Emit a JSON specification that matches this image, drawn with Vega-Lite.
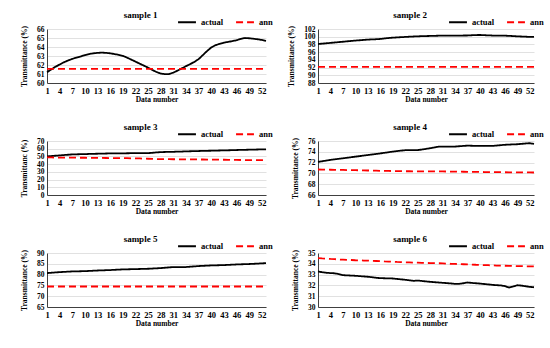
{
  "$schema": "https://vega.github.io/schema/vega-lite/v6.json",
  "background": "white",
  "padding": {"left": 20, "top": 11, "right": 5, "bottom": 4},
  "datasets": {
    "s1": [
      {"n":1,"actual":61.2,"ann":61.58},{"n":2,"actual":61.5,"ann":61.58},{"n":3,"actual":61.8,"ann":61.58},{"n":4,"actual":62.05,"ann":61.58},{"n":5,"actual":62.3,"ann":61.58},{"n":6,"actual":62.5,"ann":61.58},{"n":7,"actual":62.68,"ann":61.58},{"n":8,"actual":62.82,"ann":61.58},{"n":9,"actual":62.95,"ann":61.58},{"n":10,"actual":63.1,"ann":61.58},
      {"n":11,"actual":63.22,"ann":61.58},{"n":12,"actual":63.3,"ann":61.58},{"n":13,"actual":63.35,"ann":61.58},{"n":14,"actual":63.37,"ann":61.58},{"n":15,"actual":63.35,"ann":61.58},{"n":16,"actual":63.3,"ann":61.58},{"n":17,"actual":63.22,"ann":61.58},{"n":18,"actual":63.13,"ann":61.58},{"n":19,"actual":63.02,"ann":61.58},{"n":20,"actual":62.82,"ann":61.58},
      {"n":21,"actual":62.6,"ann":61.58},{"n":22,"actual":62.38,"ann":61.58},{"n":23,"actual":62.15,"ann":61.58},{"n":24,"actual":61.93,"ann":61.58},{"n":25,"actual":61.7,"ann":61.58},{"n":26,"actual":61.45,"ann":61.58},{"n":27,"actual":61.22,"ann":61.58},{"n":28,"actual":61.05,"ann":61.58},{"n":29,"actual":60.98,"ann":61.58},{"n":30,"actual":61.0,"ann":61.58},
      {"n":31,"actual":61.15,"ann":61.58},{"n":32,"actual":61.38,"ann":61.58},{"n":33,"actual":61.62,"ann":61.58},{"n":34,"actual":61.87,"ann":61.58},{"n":35,"actual":62.1,"ann":61.58},{"n":36,"actual":62.35,"ann":61.58},{"n":37,"actual":62.65,"ann":61.58},{"n":38,"actual":63.1,"ann":61.58},{"n":39,"actual":63.55,"ann":61.58},{"n":40,"actual":63.95,"ann":61.58},
      {"n":41,"actual":64.2,"ann":61.58},{"n":42,"actual":64.35,"ann":61.58},{"n":43,"actual":64.48,"ann":61.58},{"n":44,"actual":64.57,"ann":61.58},{"n":45,"actual":64.65,"ann":61.58},{"n":46,"actual":64.75,"ann":61.58},{"n":47,"actual":64.9,"ann":61.58},{"n":48,"actual":65.0,"ann":61.58},{"n":49,"actual":64.97,"ann":61.58},{"n":50,"actual":64.92,"ann":61.58},
      {"n":51,"actual":64.86,"ann":61.58},{"n":52,"actual":64.78,"ann":61.58},{"n":53,"actual":64.68,"ann":61.58}
    ],
    "s2": [
      {"n":1,"actual":98.1,"ann":92.2},{"n":2,"actual":98.2,"ann":92.2},{"n":3,"actual":98.3,"ann":92.2},{"n":4,"actual":98.4,"ann":92.2},{"n":5,"actual":98.5,"ann":92.2},{"n":6,"actual":98.6,"ann":92.2},{"n":7,"actual":98.7,"ann":92.2},{"n":8,"actual":98.8,"ann":92.2},{"n":9,"actual":98.9,"ann":92.2},{"n":10,"actual":99.0,"ann":92.2},
      {"n":11,"actual":99.08,"ann":92.2},{"n":12,"actual":99.17,"ann":92.2},{"n":13,"actual":99.25,"ann":92.2},{"n":14,"actual":99.3,"ann":92.2},{"n":15,"actual":99.35,"ann":92.2},{"n":16,"actual":99.42,"ann":92.2},{"n":17,"actual":99.55,"ann":92.2},{"n":18,"actual":99.66,"ann":92.2},{"n":19,"actual":99.76,"ann":92.2},{"n":20,"actual":99.82,"ann":92.2},
      {"n":21,"actual":99.88,"ann":92.2},{"n":22,"actual":99.94,"ann":92.2},{"n":23,"actual":100.0,"ann":92.2},{"n":24,"actual":100.05,"ann":92.2},{"n":25,"actual":100.1,"ann":92.2},{"n":26,"actual":100.14,"ann":92.2},{"n":27,"actual":100.17,"ann":92.2},{"n":28,"actual":100.2,"ann":92.2},{"n":29,"actual":100.23,"ann":92.2},{"n":30,"actual":100.26,"ann":92.2},
      {"n":31,"actual":100.28,"ann":92.2},{"n":32,"actual":100.29,"ann":92.2},{"n":33,"actual":100.29,"ann":92.2},{"n":34,"actual":100.3,"ann":92.2},{"n":35,"actual":100.3,"ann":92.2},{"n":36,"actual":100.31,"ann":92.2},{"n":37,"actual":100.32,"ann":92.2},{"n":38,"actual":100.38,"ann":92.2},{"n":39,"actual":100.43,"ann":92.2},{"n":40,"actual":100.45,"ann":92.2},
      {"n":41,"actual":100.4,"ann":92.2},{"n":42,"actual":100.35,"ann":92.2},{"n":43,"actual":100.3,"ann":92.2},{"n":44,"actual":100.29,"ann":92.2},{"n":45,"actual":100.28,"ann":92.2},{"n":46,"actual":100.28,"ann":92.2},{"n":47,"actual":100.22,"ann":92.2},{"n":48,"actual":100.16,"ann":92.2},{"n":49,"actual":100.1,"ann":92.2},{"n":50,"actual":100.05,"ann":92.2},
      {"n":51,"actual":100.0,"ann":92.2},{"n":52,"actual":99.95,"ann":92.2},{"n":53,"actual":99.94,"ann":92.2}
    ],
    "s3": [
      {"n":1,"actual":50.0,"ann":48.7},{"n":2,"actual":50.5,"ann":48.65},{"n":3,"actual":50.9,"ann":48.6},{"n":4,"actual":51.3,"ann":48.55},{"n":5,"actual":51.8,"ann":48.5},{"n":6,"actual":52.2,"ann":48.45},{"n":7,"actual":52.6,"ann":48.4},{"n":8,"actual":52.75,"ann":48.35},{"n":9,"actual":52.9,"ann":48.3},{"n":10,"actual":53.0,"ann":48.3},
      {"n":11,"actual":53.2,"ann":48.2},{"n":12,"actual":53.35,"ann":48.15},{"n":13,"actual":53.5,"ann":48.1},{"n":14,"actual":53.65,"ann":48.0},{"n":15,"actual":53.8,"ann":47.95},{"n":16,"actual":53.9,"ann":47.9},{"n":17,"actual":53.95,"ann":47.85},{"n":18,"actual":54.0,"ann":47.8},{"n":19,"actual":54.0,"ann":47.8},{"n":20,"actual":54.1,"ann":47.7},
      {"n":21,"actual":54.2,"ann":47.6},{"n":22,"actual":54.3,"ann":47.5},{"n":23,"actual":54.3,"ann":47.35},{"n":24,"actual":54.3,"ann":47.2},{"n":25,"actual":54.3,"ann":47.0},{"n":26,"actual":54.7,"ann":46.85},{"n":27,"actual":55.2,"ann":46.65},{"n":28,"actual":55.6,"ann":46.5},{"n":29,"actual":55.75,"ann":46.45},{"n":30,"actual":55.9,"ann":46.4},
      {"n":31,"actual":56.0,"ann":46.35},{"n":32,"actual":56.2,"ann":46.3},{"n":33,"actual":56.35,"ann":46.25},{"n":34,"actual":56.5,"ann":46.2},{"n":35,"actual":56.7,"ann":46.15},{"n":36,"actual":56.85,"ann":46.1},{"n":37,"actual":57.0,"ann":46.1},{"n":38,"actual":57.15,"ann":46.0},{"n":39,"actual":57.3,"ann":45.95},{"n":40,"actual":57.4,"ann":45.9},
      {"n":41,"actual":57.55,"ann":45.85},{"n":42,"actual":57.7,"ann":45.75},{"n":43,"actual":57.8,"ann":45.7},{"n":44,"actual":57.95,"ann":45.6},{"n":45,"actual":58.15,"ann":45.5},{"n":46,"actual":58.3,"ann":45.45},{"n":47,"actual":58.45,"ann":45.35},{"n":48,"actual":58.6,"ann":45.3},{"n":49,"actual":58.7,"ann":45.2},{"n":50,"actual":58.85,"ann":45.2},
      {"n":51,"actual":59.0,"ann":45.2},{"n":52,"actual":59.1,"ann":45.2},{"n":53,"actual":59.1,"ann":45.2}
    ],
    "s4": [
      {"n":1,"actual":72.13,"ann":70.72},{"n":2,"actual":72.25,"ann":70.71},{"n":3,"actual":72.38,"ann":70.69},{"n":4,"actual":72.5,"ann":70.68},{"n":5,"actual":72.6,"ann":70.67},{"n":6,"actual":72.7,"ann":70.65},{"n":7,"actual":72.8,"ann":70.64},{"n":8,"actual":72.9,"ann":70.62},{"n":9,"actual":73.0,"ann":70.61},{"n":10,"actual":73.1,"ann":70.6},
      {"n":11,"actual":73.2,"ann":70.58},{"n":12,"actual":73.3,"ann":70.56},{"n":13,"actual":73.4,"ann":70.54},{"n":14,"actual":73.5,"ann":70.52},{"n":15,"actual":73.6,"ann":70.5},{"n":16,"actual":73.7,"ann":70.48},{"n":17,"actual":73.81,"ann":70.47},{"n":18,"actual":73.92,"ann":70.45},{"n":19,"actual":74.04,"ann":70.44},{"n":20,"actual":74.13,"ann":70.43},
      {"n":21,"actual":74.22,"ann":70.42},{"n":22,"actual":74.3,"ann":70.4},{"n":23,"actual":74.3,"ann":70.4},{"n":24,"actual":74.3,"ann":70.39},{"n":25,"actual":74.32,"ann":70.39},{"n":26,"actual":74.42,"ann":70.38},{"n":27,"actual":74.54,"ann":70.38},{"n":28,"actual":74.66,"ann":70.37},{"n":29,"actual":74.8,"ann":70.37},{"n":30,"actual":74.95,"ann":70.36},
      {"n":31,"actual":74.96,"ann":70.36},{"n":32,"actual":74.96,"ann":70.35},{"n":33,"actual":74.96,"ann":70.34},{"n":34,"actual":74.97,"ann":70.33},{"n":35,"actual":75.03,"ann":70.32},{"n":36,"actual":75.09,"ann":70.31},{"n":37,"actual":75.14,"ann":70.3},{"n":38,"actual":75.12,"ann":70.29},{"n":39,"actual":75.1,"ann":70.28},{"n":40,"actual":75.08,"ann":70.27},
      {"n":41,"actual":75.08,"ann":70.25},{"n":42,"actual":75.08,"ann":70.24},{"n":43,"actual":75.09,"ann":70.23},{"n":44,"actual":75.16,"ann":70.22},{"n":45,"actual":75.23,"ann":70.22},{"n":46,"actual":75.3,"ann":70.21},{"n":47,"actual":75.34,"ann":70.2},{"n":48,"actual":75.37,"ann":70.2},{"n":49,"actual":75.4,"ann":70.19},{"n":50,"actual":75.47,"ann":70.19},
      {"n":51,"actual":75.54,"ann":70.18},{"n":52,"actual":75.6,"ann":70.18},{"n":53,"actual":75.45,"ann":70.17}
    ],
    "s5": [
      {"n":1,"actual":80.7,"ann":74.5},{"n":2,"actual":80.85,"ann":74.5},{"n":3,"actual":81.0,"ann":74.5},{"n":4,"actual":81.15,"ann":74.5},{"n":5,"actual":81.25,"ann":74.5},{"n":6,"actual":81.36,"ann":74.5},{"n":7,"actual":81.46,"ann":74.5},{"n":8,"actual":81.5,"ann":74.5},{"n":9,"actual":81.55,"ann":74.5},{"n":10,"actual":81.6,"ann":74.5},
      {"n":11,"actual":81.7,"ann":74.5},{"n":12,"actual":81.8,"ann":74.5},{"n":13,"actual":81.9,"ann":74.5},{"n":14,"actual":81.97,"ann":74.5},{"n":15,"actual":82.03,"ann":74.5},{"n":16,"actual":82.1,"ann":74.5},{"n":17,"actual":82.2,"ann":74.5},{"n":18,"actual":82.3,"ann":74.5},{"n":19,"actual":82.4,"ann":74.5},{"n":20,"actual":82.45,"ann":74.5},
      {"n":21,"actual":82.5,"ann":74.5},{"n":22,"actual":82.55,"ann":74.5},{"n":23,"actual":82.6,"ann":74.5},{"n":24,"actual":82.65,"ann":74.5},{"n":25,"actual":82.7,"ann":74.5},{"n":26,"actual":82.8,"ann":74.5},{"n":27,"actual":82.9,"ann":74.5},{"n":28,"actual":83.0,"ann":74.5},{"n":29,"actual":83.17,"ann":74.5},{"n":30,"actual":83.34,"ann":74.5},
      {"n":31,"actual":83.5,"ann":74.5},{"n":32,"actual":83.5,"ann":74.5},{"n":33,"actual":83.5,"ann":74.5},{"n":34,"actual":83.5,"ann":74.5},{"n":35,"actual":83.65,"ann":74.5},{"n":36,"actual":83.8,"ann":74.5},{"n":37,"actual":83.95,"ann":74.5},{"n":38,"actual":84.05,"ann":74.5},{"n":39,"actual":84.15,"ann":74.5},{"n":40,"actual":84.25,"ann":74.5},
      {"n":41,"actual":84.3,"ann":74.5},{"n":42,"actual":84.35,"ann":74.5},{"n":43,"actual":84.4,"ann":74.5},{"n":44,"actual":84.5,"ann":74.5},{"n":45,"actual":84.6,"ann":74.5},{"n":46,"actual":84.7,"ann":74.5},{"n":47,"actual":84.77,"ann":74.5},{"n":48,"actual":84.83,"ann":74.5},{"n":49,"actual":84.9,"ann":74.5},{"n":50,"actual":85.0,"ann":74.5},
      {"n":51,"actual":85.1,"ann":74.5},{"n":52,"actual":85.2,"ann":74.5},{"n":53,"actual":85.3,"ann":74.5}
    ],
    "s6": [
      {"n":1,"actual":33.29,"ann":34.53},{"n":2,"actual":33.22,"ann":34.5},{"n":3,"actual":33.17,"ann":34.48},{"n":4,"actual":33.14,"ann":34.45},{"n":5,"actual":33.12,"ann":34.43},{"n":6,"actual":33.05,"ann":34.4},{"n":7,"actual":32.95,"ann":34.38},{"n":8,"actual":32.93,"ann":34.36},{"n":9,"actual":32.91,"ann":34.35},{"n":10,"actual":32.89,"ann":34.33},
      {"n":11,"actual":32.86,"ann":34.32},{"n":12,"actual":32.83,"ann":34.3},{"n":13,"actual":32.8,"ann":34.29},{"n":14,"actual":32.76,"ann":34.27},{"n":15,"actual":32.71,"ann":34.26},{"n":16,"actual":32.67,"ann":34.24},{"n":17,"actual":32.66,"ann":34.22},{"n":18,"actual":32.65,"ann":34.21},{"n":19,"actual":32.64,"ann":34.19},{"n":20,"actual":32.6,"ann":34.17},
      {"n":21,"actual":32.56,"ann":34.16},{"n":22,"actual":32.52,"ann":34.14},{"n":23,"actual":32.47,"ann":34.13},{"n":24,"actual":32.42,"ann":34.11},{"n":25,"actual":32.45,"ann":34.1},{"n":26,"actual":32.41,"ann":34.09},{"n":27,"actual":32.37,"ann":34.08},{"n":28,"actual":32.33,"ann":34.07},{"n":29,"actual":32.3,"ann":34.06},{"n":30,"actual":32.27,"ann":34.05},
      {"n":31,"actual":32.24,"ann":34.04},{"n":32,"actual":32.21,"ann":34.02},{"n":33,"actual":32.18,"ann":34.0},{"n":34,"actual":32.14,"ann":33.99},{"n":35,"actual":32.15,"ann":33.97},{"n":36,"actual":32.2,"ann":33.96},{"n":37,"actual":32.27,"ann":33.94},{"n":38,"actual":32.23,"ann":33.93},{"n":39,"actual":32.2,"ann":33.91},{"n":40,"actual":32.17,"ann":33.9},
      {"n":41,"actual":32.13,"ann":33.88},{"n":42,"actual":32.09,"ann":33.87},{"n":43,"actual":32.05,"ann":33.85},{"n":44,"actual":32.02,"ann":33.84},{"n":45,"actual":32.0,"ann":33.83},{"n":46,"actual":31.93,"ann":33.82},{"n":47,"actual":31.8,"ann":33.81},{"n":48,"actual":31.9,"ann":33.8},{"n":49,"actual":32.02,"ann":33.79},{"n":50,"actual":31.98,"ann":33.78},
      {"n":51,"actual":31.92,"ann":33.77},{"n":52,"actual":31.86,"ann":33.77},{"n":53,"actual":31.83,"ann":33.76}
    ]
  },
  "columns": 2,
  "bounds": "flush",
  "spacing": {"column": 52, "row": 58},
  "resolve": {"scale": {"color": "independent", "strokeDash": "independent", "x": "independent", "y": "independent"}},
  "concat": [
    {
      "title": {"text": "sample 1"},
      "width": 219, "height": 54,
      "data": {"name": "s1"},
      "transform": [{"fold": ["actual", "ann"], "as": ["series", "value"]}],
      "mark": {"type": "line", "strokeWidth": 1.8},
      "encoding": {
        "x": {"field": "n", "type": "quantitative", "scale": {"domain": [1, 53], "nice": false, "zero": false}, "axis": {"values": [1,4,7,10,13,16,19,22,25,28,31,34,37,40,43,46,49,52], "title": "Data number"}},
        "y": {"field": "value", "type": "quantitative", "scale": {"domain": [60, 66], "nice": false, "zero": false}, "axis": {"values": [60,61,62,63,64,65,66], "title": "Transmittance (%)"}},
        "color": {"field": "series", "type": "nominal", "scale": {"domain": ["actual", "ann"], "range": ["#000000", "#ff0000"]}, "legend": {"orient": "none", "legendX": 130, "legendY": -17, "direction": "horizontal", "title": null}},
        "strokeDash": {"field": "series", "type": "nominal", "scale": {"domain": ["actual", "ann"], "range": [[1, 0], [7, 4]]}, "legend": {"orient": "none", "legendX": 130, "legendY": -17, "direction": "horizontal", "title": null}}
      }
    },
    {
      "title": {"text": "sample 2"},
      "width": 216, "height": 54,
      "data": {"name": "s2"},
      "transform": [{"fold": ["actual", "ann"], "as": ["series", "value"]}],
      "mark": {"type": "line", "strokeWidth": 1.8},
      "encoding": {
        "x": {"field": "n", "type": "quantitative", "scale": {"domain": [1, 53], "nice": false, "zero": false}, "axis": {"values": [1,4,7,10,13,16,19,22,25,28,31,34,37,40,43,46,49,52], "title": "Data number"}},
        "y": {"field": "value", "type": "quantitative", "scale": {"domain": [88, 102], "nice": false, "zero": false}, "axis": {"values": [88,90,92,94,96,98,100,102], "title": "Transmittance (%)"}},
        "color": {"field": "series", "type": "nominal", "scale": {"domain": ["actual", "ann"], "range": ["#000000", "#ff0000"]}, "legend": {"orient": "none", "legendX": 130, "legendY": -17, "direction": "horizontal", "title": null}},
        "strokeDash": {"field": "series", "type": "nominal", "scale": {"domain": ["actual", "ann"], "range": [[1, 0], [7, 4]]}, "legend": {"orient": "none", "legendX": 130, "legendY": -17, "direction": "horizontal", "title": null}}
      }
    },
    {
      "title": {"text": "sample 3"},
      "width": 219, "height": 54,
      "data": {"name": "s3"},
      "transform": [{"fold": ["actual", "ann"], "as": ["series", "value"]}],
      "mark": {"type": "line", "strokeWidth": 1.8},
      "encoding": {
        "x": {"field": "n", "type": "quantitative", "scale": {"domain": [1, 53], "nice": false, "zero": false}, "axis": {"values": [1,4,7,10,13,16,19,22,25,28,31,34,37,40,43,46,49,52], "title": "Data number"}},
        "y": {"field": "value", "type": "quantitative", "scale": {"domain": [0, 70], "nice": false, "zero": false}, "axis": {"values": [0,10,20,30,40,50,60,70], "title": "Transmittanc (%)"}},
        "color": {"field": "series", "type": "nominal", "scale": {"domain": ["actual", "ann"], "range": ["#000000", "#ff0000"]}, "legend": {"orient": "none", "legendX": 130, "legendY": -17, "direction": "horizontal", "title": null}},
        "strokeDash": {"field": "series", "type": "nominal", "scale": {"domain": ["actual", "ann"], "range": [[1, 0], [7, 4]]}, "legend": {"orient": "none", "legendX": 130, "legendY": -17, "direction": "horizontal", "title": null}}
      }
    },
    {
      "title": {"text": "sample 4"},
      "width": 216, "height": 54,
      "data": {"name": "s4"},
      "transform": [{"fold": ["actual", "ann"], "as": ["series", "value"]}],
      "mark": {"type": "line", "strokeWidth": 1.8},
      "encoding": {
        "x": {"field": "n", "type": "quantitative", "scale": {"domain": [1, 53], "nice": false, "zero": false}, "axis": {"values": [1,4,7,10,13,16,19,22,25,28,31,34,37,40,43,46,49,52], "title": "Data number"}},
        "y": {"field": "value", "type": "quantitative", "scale": {"domain": [66, 76], "nice": false, "zero": false}, "axis": {"values": [66,68,70,72,74,76], "title": "Transmittance (%)"}},
        "color": {"field": "series", "type": "nominal", "scale": {"domain": ["actual", "ann"], "range": ["#000000", "#ff0000"]}, "legend": {"orient": "none", "legendX": 130, "legendY": -17, "direction": "horizontal", "title": null}},
        "strokeDash": {"field": "series", "type": "nominal", "scale": {"domain": ["actual", "ann"], "range": [[1, 0], [7, 4]]}, "legend": {"orient": "none", "legendX": 130, "legendY": -17, "direction": "horizontal", "title": null}}
      }
    },
    {
      "title": {"text": "sample 5"},
      "width": 219, "height": 54,
      "data": {"name": "s5"},
      "transform": [{"fold": ["actual", "ann"], "as": ["series", "value"]}],
      "mark": {"type": "line", "strokeWidth": 1.8},
      "encoding": {
        "x": {"field": "n", "type": "quantitative", "scale": {"domain": [1, 53], "nice": false, "zero": false}, "axis": {"values": [1,4,7,10,13,16,19,22,25,28,31,34,37,40,43,46,49,52], "title": "Data number"}},
        "y": {"field": "value", "type": "quantitative", "scale": {"domain": [65, 90], "nice": false, "zero": false}, "axis": {"values": [65,70,75,80,85,90], "title": "Transmittance (%)"}},
        "color": {"field": "series", "type": "nominal", "scale": {"domain": ["actual", "ann"], "range": ["#000000", "#ff0000"]}, "legend": {"orient": "none", "legendX": 130, "legendY": -17, "direction": "horizontal", "title": null}},
        "strokeDash": {"field": "series", "type": "nominal", "scale": {"domain": ["actual", "ann"], "range": [[1, 0], [7, 4]]}, "legend": {"orient": "none", "legendX": 130, "legendY": -17, "direction": "horizontal", "title": null}}
      }
    },
    {
      "title": {"text": "sample 6"},
      "width": 216, "height": 54,
      "data": {"name": "s6"},
      "transform": [{"fold": ["actual", "ann"], "as": ["series", "value"]}],
      "mark": {"type": "line", "strokeWidth": 1.8},
      "encoding": {
        "x": {"field": "n", "type": "quantitative", "scale": {"domain": [1, 53], "nice": false, "zero": false}, "axis": {"values": [1,4,7,10,13,16,19,22,25,28,31,34,37,40,43,46,49,52], "title": "Data number"}},
        "y": {"field": "value", "type": "quantitative", "scale": {"domain": [30, 35], "nice": false, "zero": false}, "axis": {"values": [30,31,32,33,34,35], "title": "Transmittance (%)"}},
        "color": {"field": "series", "type": "nominal", "scale": {"domain": ["actual", "ann"], "range": ["#000000", "#ff0000"]}, "legend": {"orient": "none", "legendX": 130, "legendY": -17, "direction": "horizontal", "title": null}},
        "strokeDash": {"field": "series", "type": "nominal", "scale": {"domain": ["actual", "ann"], "range": [[1, 0], [7, 4]]}, "legend": {"orient": "none", "legendX": 130, "legendY": -17, "direction": "horizontal", "title": null}}
      }
    }
  ],
  "config": {
    "font": "Times New Roman, Liberation Serif, serif",
    "view": {"stroke": null},
    "title": {"font": "Times New Roman, Liberation Serif, serif", "fontSize": 9, "fontWeight": "bold", "color": "#000000", "anchor": "middle", "dx": -16, "offset": -8},
    "axis": {"labelFont": "Times New Roman, Liberation Serif, serif", "labelFontWeight": "bold", "labelFontSize": 8.5, "labelColor": "#000000", "titleFont": "Times New Roman, Liberation Serif, serif", "titleFontWeight": "bold", "titleFontSize": 7.5, "titleColor": "#000000", "ticks": false, "domainColor": "#404040", "domainWidth": 1, "gridColor": "#d9d9d9", "gridWidth": 0.8, "labelOverlap": false, "labelFlush": false},
    "axisX": {"grid": false, "labelAngle": 0, "labelPadding": 3, "titlePadding": 1},
    "axisY": {"grid": true, "labelPadding": 3, "titlePadding": 8, "labelFontSize": 7.5},
    "legend": {"symbolType": "stroke", "symbolSize": 320, "symbolStrokeWidth": 2, "labelFont": "Times New Roman, Liberation Serif, serif", "labelFontWeight": "bold", "labelFontSize": 8.5, "labelColor": "#000000", "columnPadding": 8, "symbolOffset": 0, "padding": 0}
  }
}
